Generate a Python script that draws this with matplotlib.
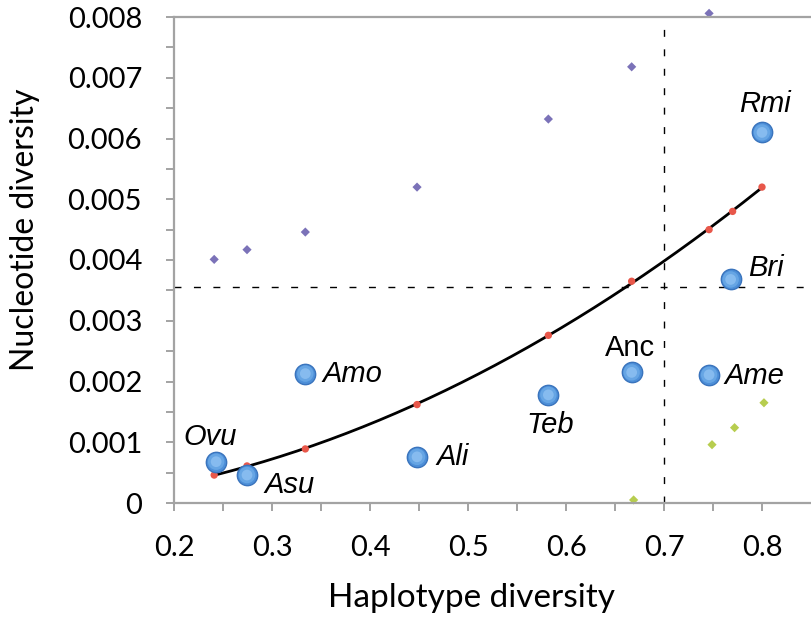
import numpy as np
import matplotlib
matplotlib.use("Agg")
import matplotlib.pyplot as plt

# populatii (puncte albastre)
pop_nume = ["Ovu", "Asu", "Amo", "Ali", "Teb", "Anc", "Ame", "Bri", "Rmi"]
pop_h = [0.243, 0.2745, 0.334, 0.448, 0.582, 0.667, 0.746, 0.768, 0.800]
pop_pi = [0.00068, 0.00046, 0.00213, 0.00076, 0.00178, 0.00215, 0.00211, 0.00368, 0.00610]

# valori asteptate (rosu) si limitele (violet / verde)
exp_h = [0.241, 0.2745, 0.334, 0.448, 0.582, 0.667, 0.746, 0.770, 0.800]
exp_pi = [0.00046, 0.00061, 0.00089, 0.00162, 0.00276, 0.00365, 0.00450, 0.00480, 0.00520]
sup_h = [0.241, 0.2745, 0.334, 0.448, 0.582, 0.667, 0.746]
sup_pi = [0.00401, 0.00417, 0.00446, 0.00520, 0.00632, 0.00718, 0.00806]
inf_h = [0.669, 0.749, 0.772, 0.802]
inf_pi = [0.00005, 0.00096, 0.00124, 0.00165]

prag_h = 0.7
prag_pi = 0.00355

fig = plt.figure(figsize=(8.11, 6.19), dpi=100)
ax = fig.add_axes([174 / 811, 1 - 503 / 619, 637 / 811, 486 / 619])

ax.set_xlim(0.2, 0.85)
ax.set_ylim(0, 0.008)

# linie de tendinta
coef = np.polyfit(exp_h, exp_pi, 2)
xs = np.linspace(min(exp_h), max(exp_h), 200)
ax.plot(xs, np.polyval(coef, xs), c="black", lw=2, zorder=3)

ax.scatter(exp_h, exp_pi, s=28, c="#e8574a", edgecolors="none", zorder=4)
ax.scatter(sup_h, sup_pi, s=22, c="#7b72b8", marker="D", edgecolors="none",
           zorder=2, clip_on=False)
ax.scatter(inf_h, inf_pi, s=22, c="#b7cd4f", marker="D", edgecolors="none",
           zorder=2, clip_on=False)

ax.axvline(prag_h, c="black", lw=1, ls=(0, (5, 9)), zorder=1)
ax.axhline(prag_pi, c="black", lw=1, ls=(0, (5, 9)), zorder=1)

# cercuri cu gradient simplu
ax.scatter(pop_h, pop_pi, s=215, c="#4d8fd8", edgecolors="#3a74bd",
           linewidths=1.0, zorder=5)
ax.scatter(pop_h, pop_pi, s=140, c="#66a5e4", edgecolors="none", zorder=5)
ax.scatter(pop_h, pop_pi, s=60, c="#86bbef", edgecolors="none", zorder=5)

# etichete populatii (decalaj in pixeli)
offs = {
    "Ovu": (-6, 25, "center"), "Asu": (17, -10, "left"), "Amo": (17, 0, "left"),
    "Ali": (19, 0, "left"), "Teb": (2, -30, "center"), "Anc": (-2, 24, "center"),
    "Ame": (15, -1, "left"), "Bri": (17, 11, "left"), "Rmi": (3, 28, "center"),
}
for nume, h, p in zip(pop_nume, pop_h, pop_pi):
    dx, dy, ha = offs[nume]
    stil = "normal" if nume == "Anc" else "italic"
    ax.annotate(nume, (h, p), xytext=(dx * 0.72, dy * 0.72), textcoords="offset points",
                ha=ha, va="center", fontsize=21, style=stil,
                family="Liberation Sans", zorder=6)

ax.set_xticks(np.arange(0.2, 0.81, 0.1))
ax.set_xticks(np.arange(0.25, 0.85, 0.1), minor=True)
ax.set_yticks(np.arange(0, 0.0081, 0.001))
ax.set_yticks(np.arange(0.0005, 0.008, 0.001), minor=True)
ax.set_xticklabels(["0.2", "0.3", "0.4", "0.5", "0.6", "0.7", "0.8"])
ax.set_yticklabels(["0", "0.001", "0.002", "0.003", "0.004", "0.005",
                    "0.006", "0.007", "0.008"])

gri = "#a3a3a3"
for s in ["left", "bottom", "top"]:
    ax.spines[s].set_color(gri)
    ax.spines[s].set_linewidth(1.6)
ax.spines["right"].set_visible(False)
ax.tick_params(which="both", direction="out", length=6, width=1.4, color=gri,
               labelsize=21, pad=17)
for lab in ax.get_xticklabels() + ax.get_yticklabels():
    lab.set_family("Lato")

ax.set_xlabel("Haplotype diversity", fontsize=24, family="Lato")
ax.set_ylabel("Nucleotide diversity", fontsize=23, family="Lato")
ax.xaxis.set_label_coords((472 - 174) / 637, -(598 - 503) / 486)
ax.yaxis.set_label_coords(-(174 - 25) / 637, (503 - 230) / 486)
ax.xaxis.label.set_va("center")
ax.yaxis.label.set_va("center")

fig.savefig("out.png", dpi=100)
